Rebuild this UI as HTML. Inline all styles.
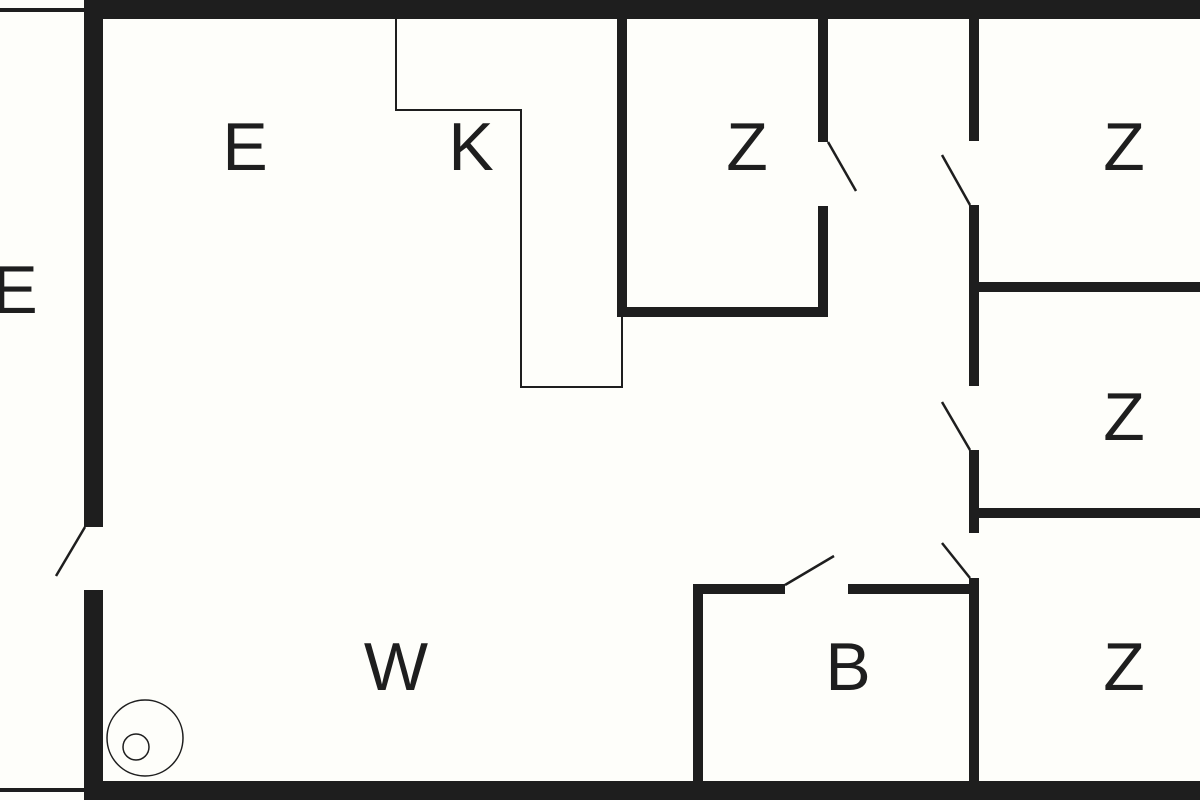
<!DOCTYPE html>
<html><head><style>
html,body{margin:0;padding:0;background:#fefefa;}
svg{display:block}
text{font-family:"Liberation Sans",sans-serif;font-size:68px;fill:#1e1e1e;text-anchor:middle}
</style></head><body>
<svg width="1200" height="800" viewBox="0 0 1200 800" xmlns="http://www.w3.org/2000/svg">
<rect width="1200" height="800" fill="#fefefa"/>
<g fill="#1e1e1e">
<rect x="84" y="0" width="1116" height="19"/>
<rect x="0" y="8" width="84" height="4"/>
<rect x="84" y="0" width="19" height="527"/>
<rect x="84" y="590" width="19" height="210"/>
<rect x="84" y="781" width="1116" height="19"/>
<rect x="0" y="788" width="84" height="4"/>
<rect x="617" y="19" width="10" height="298"/>
<rect x="617" y="307" width="211" height="10"/>
<rect x="818" y="19" width="10" height="123"/>
<rect x="818" y="206" width="10" height="111"/>
<rect x="969" y="19" width="10" height="122"/>
<rect x="969" y="205" width="10" height="181"/>
<rect x="969" y="450" width="10" height="83"/>
<rect x="969" y="578" width="10" height="210"/>
<rect x="979" y="282" width="221" height="10"/>
<rect x="979" y="508" width="221" height="10"/>
<rect x="693" y="584" width="10" height="204"/>
<rect x="693" y="584" width="92" height="10"/>
<rect x="848" y="584" width="131" height="10"/>
</g>
<g stroke="#1e1e1e" stroke-width="2.5" fill="none">
<polyline points="396,19 396,110 521,110 521,387 622,387 622,317" stroke-width="2"/>
<line x1="828" y1="142" x2="856" y2="191"/>
<line x1="970" y1="205" x2="942" y2="155"/>
<line x1="970" y1="450" x2="942" y2="402"/>
<line x1="970" y1="578" x2="942" y2="543"/>
<line x1="785" y1="585" x2="834" y2="556"/>
<line x1="85" y1="527" x2="56" y2="576"/>
<circle cx="145" cy="738" r="38" stroke-width="1.5"/>
<circle cx="136" cy="747" r="13" stroke-width="1.5"/>
</g>
<text x="245" y="170">E</text>
<text x="471" y="170">K</text>
<text x="747" y="170">Z</text>
<text x="1124" y="170">Z</text>
<text x="15" y="313">E</text>
<text x="1124" y="440">Z</text>
<text x="396" y="690">W</text>
<text x="848" y="690">B</text>
<text x="1124" y="690">Z</text>
</svg>
</body></html>
